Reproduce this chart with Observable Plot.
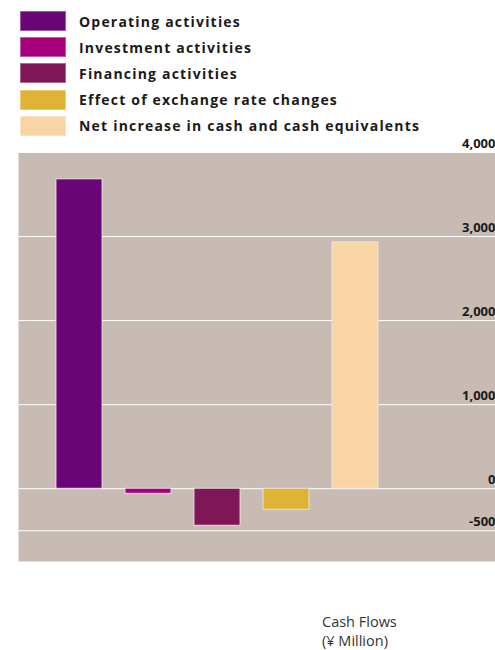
<!DOCTYPE html>
<html>
<head>
<meta charset="utf-8">
<script src="https://cdn.jsdelivr.net/npm/d3@7"></script>
<script src="https://cdn.jsdelivr.net/npm/@observablehq/plot@0.6"></script>
<style>
  body { margin: 0; background: #fff; }
  #wrap { position: relative; width: 495px; height: 650px; overflow: hidden; }
  #chart { position: absolute; left: 0; top: 0; }
  #legend { position: absolute; left: 20px; top: 11px; font-family: "Open Sans", sans-serif; font-weight: 700; font-size: 14px; letter-spacing: 1.2px; color: #1a1a1a; }
  .row { display: flex; align-items: center; height: 20px; margin-bottom: 6.2px; }
  .sw { width: 46px; height: 20px; margin-right: 13px; box-shadow: inset 0 0 0 1px rgba(255,255,255,0.35); }
  #caption { position: absolute; left: 322px; top: 612px; font-family: "Open Sans", sans-serif; font-size: 14.5px; line-height: 19px; color: #333; }
</style>
</head>
<body>
<div id="wrap">
  <div id="chart"></div>
  <div id="legend"></div>
  <div id="caption">Cash Flows<br>(¥ Million)</div>
</div>
<script>
const categories = ["Operating activities", "Investment activities", "Financing activities", "Effect of exchange rate changes", "Net increase in cash and cash equivalents"];
const values = [3680, -60, -440, -250, 2930];
const colors = ["#6a0577", "#a8007c", "#7f1657", "#dfb336", "#f9d4a4"];
const yTicks = [-500, 0, 1000, 2000, 3000, 4000];

const data = categories.map((c, i) => ({category: c, value: values[i]}));

const legend = document.getElementById("legend");
categories.forEach((c, i) => {
  const row = document.createElement("div");
  row.className = "row";
  const sw = document.createElement("div");
  sw.className = "sw";
  sw.style.background = colors[i];
  const t = document.createElement("span");
  t.textContent = c;
  row.appendChild(sw);
  row.appendChild(t);
  legend.appendChild(row);
});

const chart = Plot.plot({
  width: 495,
  height: 650,
  marginLeft: 18,
  marginRight: 0,
  marginTop: 152,
  marginBottom: 89,
  style: {background: "transparent"},
  x: {type: "band", domain: categories, range: [43.25, 390.75], paddingInner: 0.338, paddingOuter: 0.169, axis: null},
  y: {domain: [-866, 4000], axis: null},
  color: {domain: categories, range: colors},
  marks: [
    Plot.frame({fill: "#c8bbb4", stroke: null}),
    Plot.ruleY(yTicks, {stroke: "#ffffff", strokeWidth: 1}),
    Plot.barY(data, {x: "category", y: "value", fill: "category", stroke: "#f2ece8", strokeWidth: 0.8}),
    Plot.text(yTicks, {
      y: d => d,
      text: d => d.toLocaleString("en-US"),
      frameAnchor: "right",
      textAnchor: "end",
      lineAnchor: "bottom",
      dy: -5,
      fontSize: 13,
      fontWeight: "bold",
      fontFamily: "Open Sans",
      fill: "#1a1a1a",
      style: "letter-spacing:1.6px"
    })
  ]
});
document.getElementById("chart").appendChild(chart);
</script>
</body>
</html>
